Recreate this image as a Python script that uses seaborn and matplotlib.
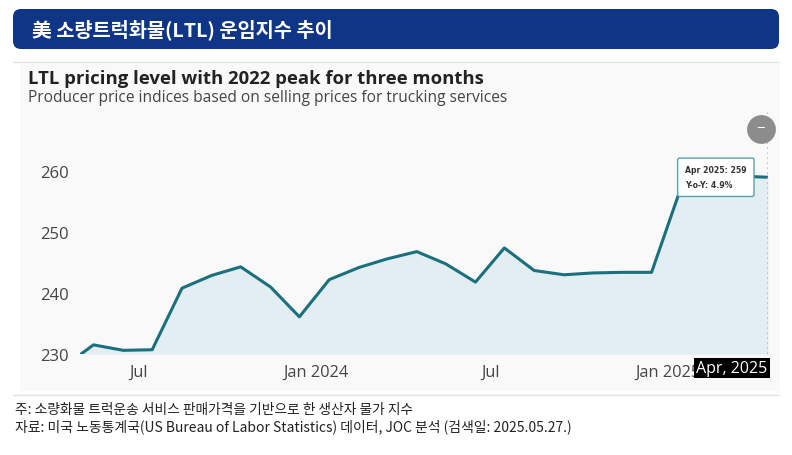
import matplotlib
matplotlib.use("Agg")
import matplotlib.pyplot as plt
import matplotlib.patches as mpatches
from matplotlib.transforms import IdentityTransform
import numpy as np
import pandas as pd
import seaborn as sns

# 데이터 (월별 PPI, 그림에서 읽은 값)
months = pd.period_range("2023-04", "2025-04", freq="M")
values = [228.0, 231.5, 230.6, 230.7, 240.8, 242.9, 244.3, 241.0, 236.1,
          242.2, 244.2, 245.6, 246.8, 244.8, 241.8, 247.4, 243.7, 243.0,
          243.3, 243.4, 243.4, 257.5, 258.4, 259.2, 259.0]
tick_dates = ["2023-07-01", "2024-01-01", "2024-07-01", "2025-01-01"]
tick_labels = ["Jul", "Jan 2024", "Jul", "Jan 2025"]
y_ticks = [230, 240, 250, 260]

header = "美 소량트럭화물(LTL) 운임지수 추이"
title = "LTL pricing level with 2022 peak for three months"
subtitle = "Producer price indices based on selling prices for trucking services"
note1 = "주: 소량화물 트럭운송 서비스 판매가격을 기반으로 한 생산자 물가 지수"
note2 = "자료: 미국 노동통계국(US Bureau of Labor Statistics) 데이터, JOC 분석 (검색일: 2025.05.27.)"

LINE = "#1b6f7e"
FILL = "#e2eef1"
NAVY = "#0e3586"
KR = ["Noto Sans CJK KR", "DejaVu Sans"]

W, H = 792, 456

sns.set_theme(style="white")
plt.rcParams["font.family"] = ["Open Sans", "Noto Sans CJK KR", "DejaVu Sans"]

df = pd.DataFrame({
    "date": months.to_timestamp() + pd.Timedelta(days=14),
    "value": values,
})

fig = plt.figure(figsize=(W / 100, H / 100), dpi=100)
fig.patch.set_facecolor("white")

# 머리 띠
fig.add_artist(mpatches.FancyBboxPatch(
    (13, H - 50), 766, 40, boxstyle="round,pad=0,rounding_size=8",
    transform=IdentityTransform(), fc=NAVY, ec="none"))
fig.text(32 / W, 1 - 30 / H, header, color="white", fontsize=14.2,
         fontweight="bold", va="center", ha="left", family=KR)

# 차트 패널 배경, 구분선
fig.add_artist(mpatches.Rectangle(
    (20, H - 392), 760, 392 - 65, transform=IdentityTransform(),
    fc="#f9f9f9", ec="none", zorder=-1))
for yy in (62.5, 396):
    fig.add_artist(plt.Line2D([13 / W, 779 / W], [1 - yy / H, 1 - yy / H],
                              color="#e2e2e2", lw=1, zorder=-1))

fig.text(28 / W, 1 - 79 / H, title, fontsize=13.3, fontweight="bold",
         color="#222222", va="center")
fig.text(28 / W, 1 - 98 / H, subtitle, fontsize=11.2, color="#444444", va="center")

fig.text(15 / W, 1 - 410 / H, note1, fontsize=9.9, color="#222222", va="center", family=KR)
fig.text(15 / W, 1 - 427 / H, note2, fontsize=10, color="#222222", va="center", family=KR)

# 영역 그래프
ax = fig.add_axes([80 / W, 1 - 355 / H, 688 / W, 245 / H])
ax.set_facecolor("none")
ax.fill_between(df["date"], df["value"], 230, color=FILL, lw=0)
sns.lineplot(data=df, x="date", y="value", ax=ax, color=LINE, linewidth=2.2)

ax.set_ylim(230, 270.2)
ax.set_xlim(pd.Timestamp("2023-05-01"), df["date"].iloc[-1])
ax.set_yticks(y_ticks)
ax.set_xticks(pd.to_datetime(tick_dates))
ax.set_xticklabels(tick_labels)
ax.tick_params(axis="both", length=0, labelcolor="#444444")
ax.tick_params(axis="x", pad=7, labelsize=11.8)
ax.tick_params(axis="y", pad=8, labelsize=12)
ax.set_xlabel("")
ax.set_ylabel("")
sns.despine(ax=ax, left=True, bottom=True)

last = df.iloc[-1]
yoy = (values[-1] / values[-13] - 1) * 100

# 마우스오버 표시 재현
ax.axvline(last["date"], color="#b5b5b5", ls=(0, (1, 2)), lw=1.2)
ax.annotate(f"{last['date'].strftime('%b %Y')}: {last['value']:.0f}\nY-o-Y: {yoy:.1f}%",
            xy=(last["date"], last["value"]), xytext=(-83, 0),
            textcoords="offset pixels", ha="left", va="center",
            fontsize=5.6, fontweight="bold", color="#333333", linespacing=1.8,
            family=["DejaVu Sans"],
            bbox=dict(boxstyle="round,pad=0.95,rounding_size=0.25", fc="white",
                      ec="#5aa0ad", lw=1), annotation_clip=False, zorder=5)
ax.annotate(last["date"].strftime("%b, %Y"), xy=(last["date"], 230),
            xytext=(-36, -14), textcoords="offset pixels", ha="center",
            va="center", fontsize=11.5, color="white",
            bbox=dict(boxstyle="square,pad=0.15", fc="black", ec="none"),
            annotation_clip=False, zorder=5)

ax.scatter([0.99], [0.92], s=430, color="#8c8c8c", transform=ax.transAxes,
           clip_on=False, zorder=6, linewidths=0)
ax.text(0.99, 0.92, "−", transform=ax.transAxes, ha="center", va="center",
        color="white", fontsize=11, zorder=7)

fig.savefig("out.png", dpi=100)
